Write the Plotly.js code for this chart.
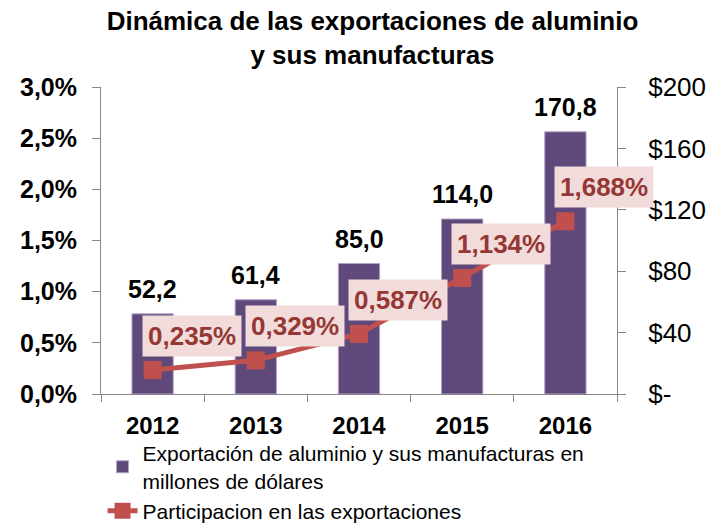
<!DOCTYPE html>
<html>
<head>
<meta charset="utf-8">
<script src="https://cdn.plot.ly/plotly-3.0.1.min.js"></script>
<style>html,body{margin:0;padding:0;background:#fff;}#chart{width:724px;height:525px;}</style>
</head>
<body>
<div id="chart"></div>
<script>
const years = ['2012', '2013', '2014', '2015', '2016'];
const exportValues = [52.2, 61.4, 85.0, 114.0, 170.8];
const shareValues = [0.235, 0.329, 0.587, 1.134, 1.688];
const leftTickVals = [0, 0.5, 1.0, 1.5, 2.0, 2.5, 3.0];
const leftTickText = ['0,0%', '0,5%', '1,0%', '1,5%', '2,0%', '2,5%', '3,0%'];
const rightTickVals = [0, 40, 80, 120, 160, 200];
const rightTickText = ['$-', '$40', '$80', '$120', '$160', '$200'];
const barName = 'Exportación de aluminio y sus manufacturas en<br>millones de dólares';
const lineName = 'Participacion en las exportaciones';

const FONT = 'Liberation Sans, Arial, sans-serif';
const fmt = (v, d) => v.toFixed(d).replace('.', ',');

const bars = {
  type: 'bar', x: years, y: exportValues, name: barName, yaxis: 'y',
  width: 0.4,
  marker: {color: '#5f497a', line: {color: '#b3a2c7', width: 1}},
  hoverinfo: 'none'
};
const line = {
  type: 'scatter', mode: 'lines+markers', x: years, y: shareValues, name: lineName, yaxis: 'y2',
  line: {color: '#c0504d', width: 5},
  marker: {symbol: 'square', size: 18, color: '#c0504d'},
  hoverinfo: 'none'
};

const annotations = [];
years.forEach((yr, i) => {
  annotations.push({
    x: i, y: exportValues[i], xref: 'x', yref: 'y',
    text: fmt(exportValues[i], 1), showarrow: false,
    yanchor: 'bottom', yshift: 9,
    font: {family: FONT, size: 25, color: '#000', weight: 'bold'}
  });
  annotations.push({
    x: i, y: shareValues[i], xref: 'x', yref: 'y2',
    text: fmt(shareValues[i], 3) + '%', showarrow: false,
    xshift: 39, yshift: 34,
    bgcolor: '#f2dcdb', borderpad: 5,
    font: {family: FONT, size: 26, color: '#953735', weight: 'bold'}
  });
});

const layout = {
  width: 724, height: 525,
  margin: {l: 101, r: 107, t: 87, b: 131, autoexpand: false},
  paper_bgcolor: '#fff', plot_bgcolor: '#fff',
  font: {family: FONT, color: '#000'},
  showlegend: true,
  title: {
    text: 'Dinámica de las exportaciones de aluminio<br>y sus manufacturas',
    font: {family: FONT, size: 26, color: '#000', weight: 'bold'},
    xref: 'container', x: 0.5145, xanchor: 'center', yref: 'container', y: 0.943, yanchor: 'middle'
  },
  xaxis: {
    type: 'category', range: [-0.5, 4.5], showline: true, linecolor: '#868686', linewidth: 1,
    ticks: 'outside', tickson: 'boundaries', ticklen: 7, tickcolor: '#868686',
    showgrid: false, zeroline: false, ticklabelstandoff: 10,
    tickfont: {family: FONT, size: 24, color: '#000', weight: 'bold'}
  },
  yaxis: {
    side: 'right', range: [0, 200], tickvals: rightTickVals, ticktext: rightTickText,
    showline: true, linecolor: '#868686', ticks: 'outside', ticklen: 8, tickcolor: '#868686',
    showgrid: false, zeroline: false, ticklabelstandoff: 17,
    tickfont: {family: FONT, size: 26, color: '#000'}
  },
  yaxis2: {
    overlaying: 'y', side: 'left', range: [0, 3], tickvals: leftTickVals, ticktext: leftTickText,
    showline: true, linecolor: '#868686', ticks: 'outside', ticklen: 8, tickcolor: '#868686',
    showgrid: false, zeroline: false, ticklabelstandoff: 10,
    tickfont: {family: FONT, size: 25, color: '#000', weight: 'bold'}
  },
  legend: {
    orientation: 'v', x: 0.003, xanchor: 'left', y: -0.127, yanchor: 'top',
    font: {family: FONT, size: 21, color: '#000'}, bgcolor: 'rgba(0,0,0,0)',
    tracegroupgap: 0, itemwidth: 30
  },
  annotations: annotations
};

Plotly.newPlot('chart', [bars, line], layout, {displayModeBar: false, staticPlot: true});
</script>
</body>
</html>
